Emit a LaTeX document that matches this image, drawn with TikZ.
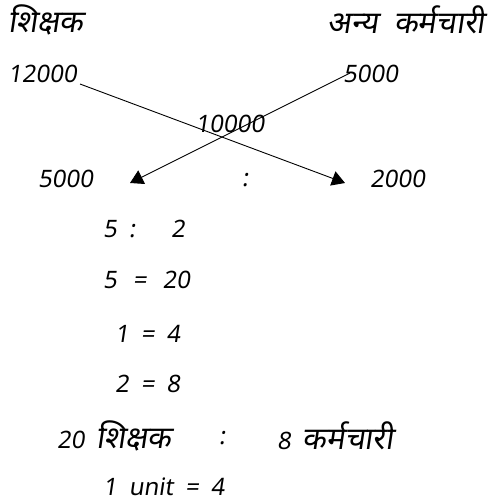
\documentclass[tikz,border=0pt]{standalone}
\usepackage{fontspec}
\setmainfont{Noto Sans}[Script=Devanagari, FakeSlant=0.15, WordSpace=1.9]
\usetikzlibrary{arrows.meta}
\newcommand{\dv}[1]{{\fontsize{31}{34}\selectfont #1}}
\tikzset{
  txt/.style={inner sep=0pt, anchor=west, font=\fontsize{24}{28}\selectfont},
  txtc/.style={inner sep=0pt, anchor=center, font=\fontsize{24}{28}\selectfont},
  conn/.style={line width=0.9pt, -{Triangle[length=13pt,width=15pt]}}
}
\begin{document}
\begin{tikzpicture}[x=1pt,y=-1pt]
\useasboundingbox (0,0) rectangle (489,504);
% headers
\node[txt] (h1) at (8,20) {\dv{शिक्षक}};
\node[txt, anchor=east] (h2) at (485,20) {\dv{अन्य कर्मचारी}};
% values
\node[txt] (a) at (8,74) {12000};
\node[txt] (b) at (343,74) {5000};
\node[txtc] (m) at (230,124) {10000};
\node[txt] (c) at (38,179) {5000};
\node[txtc] (col) at (245,180) {:};
\node[txt] (d) at (370,179) {2000};
% connectors
\coordinate (a1) at (80,84);
\coordinate (a2) at (345,183);
\coordinate (b1) at (350,73);
\coordinate (b2) at (130,183);
\draw[conn] (a1) -- (a2);
\draw[conn] (b1) -- (b2);
% working
\node[txt] (r1) at (103,229) {5 :\hspace{36pt}2};
\node[txt] (r2) at (103,280) {5\hspace{16pt}=\hspace{16pt}20};
\node[txt] (r3) at (115,334) {1 = 4};
\node[txt] (r4) at (115,384) {2 = 8};
\node[txt] (r5a) at (57,436) {20 \dv{शिक्षक}};
\node[txtc] (r5b) at (222,438) {:};
\node[txt] (r5c) at (277,436) {8 \dv{कर्मचारी}};
\node[txt] (r6) at (103,487) {1 unit = 4};
\end{tikzpicture}
\end{document}
